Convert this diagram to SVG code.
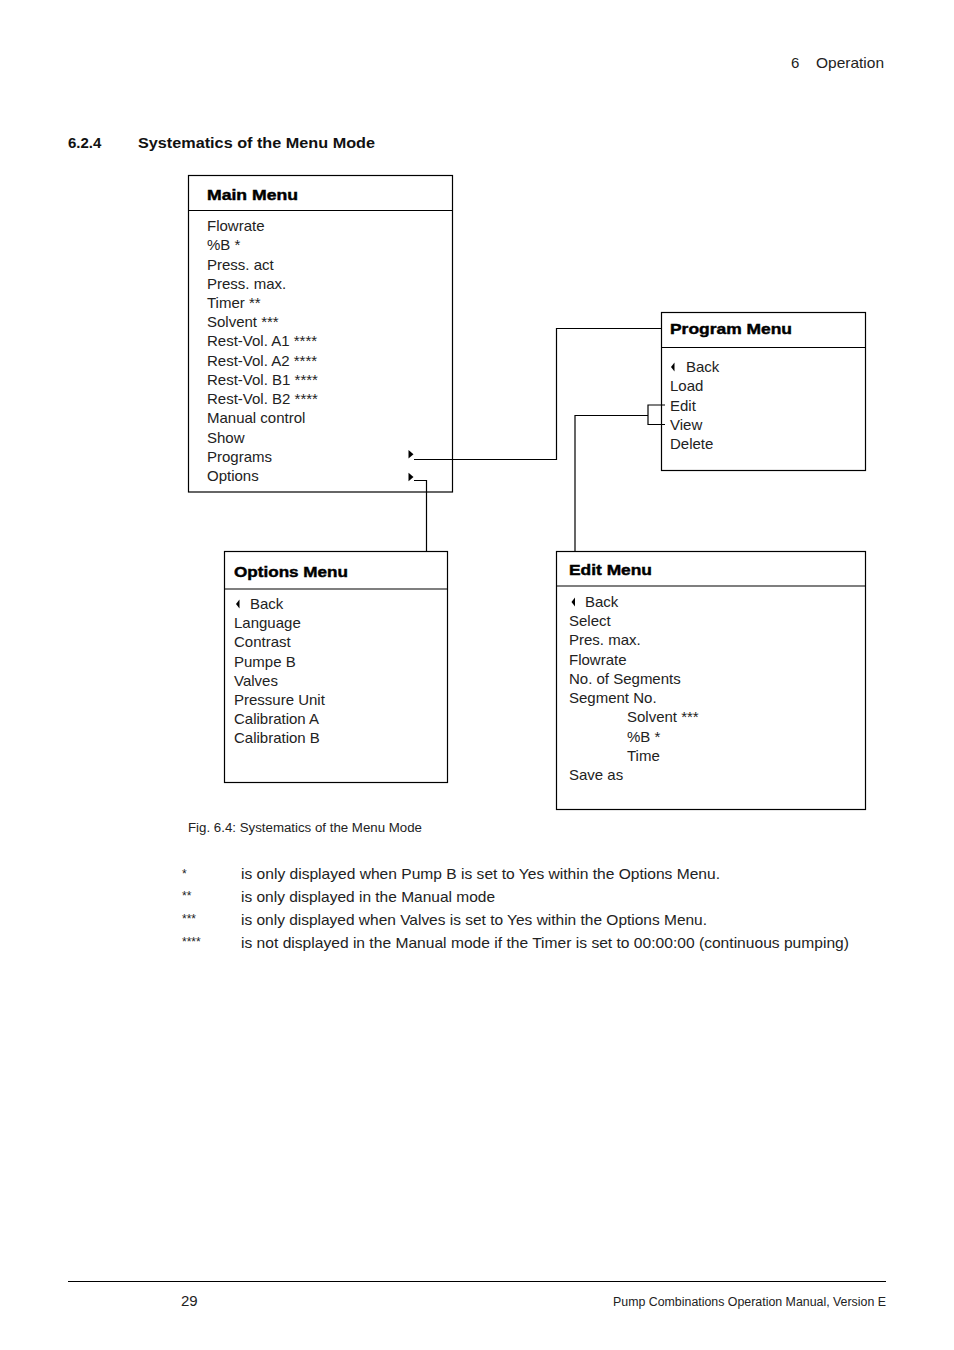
<svg xmlns="http://www.w3.org/2000/svg" width="954" height="1350" viewBox="0 0 954 1350">
<style>
.t{font-family:"Liberation Sans",Arial,sans-serif;font-size:15px;fill:#222}
.b{font-family:"Liberation Sans",Arial,sans-serif;font-size:15.5px;font-weight:bold;fill:#000;stroke:#000;stroke-width:0.45}
.h{font-family:"Liberation Sans",Arial,sans-serif;font-size:15px;font-weight:bold;fill:#111}
.s{font-family:"Liberation Sans",Arial,sans-serif;font-size:12px;fill:#222}
.box{fill:none;stroke:#000;stroke-width:1.2}
.ln{fill:none;stroke:#000;stroke-width:1.2}
.tri{fill:#000}
</style>
<rect width="954" height="1350" fill="#fff"/>
<text class="t" x="791" y="68">6</text>
<text class="t" x="816" y="68" textLength="68" lengthAdjust="spacingAndGlyphs">Operation</text>
<text class="h" x="68" y="148">6.2.4</text>
<text class="h" x="138" y="148" textLength="237" lengthAdjust="spacingAndGlyphs">Systematics of the Menu Mode</text>

<g id="connectors">
<path class="ln" d="M414,459.5 H556.5 V328.5 H661"/>
<path class="ln" d="M414,480.5 H426.5 V551"/>
<path class="ln" d="M665,405 H648 V424.5 H665 M648,415.5 H575 V551"/>
</g>

<g id="main-menu">
<rect class="box" x="188.5" y="175.5" width="264" height="316.5"/>
<line class="ln" x1="188.5" y1="210.5" x2="452.5" y2="210.5"/>
<text class="b" x="207" y="200" textLength="91" lengthAdjust="spacingAndGlyphs">Main Menu</text>
<text class="t" x="207" y="231">Flowrate</text>
<text class="t" x="207" y="250.2">%B *</text>
<text class="t" x="207" y="269.5">Press. act</text>
<text class="t" x="207" y="288.7">Press. max.</text>
<text class="t" x="207" y="307.9">Timer **</text>
<text class="t" x="207" y="327.2">Solvent ***</text>
<text class="t" x="207" y="346.4">Rest-Vol. A1 ****</text>
<text class="t" x="207" y="365.6">Rest-Vol. A2 ****</text>
<text class="t" x="207" y="384.8">Rest-Vol. B1 ****</text>
<text class="t" x="207" y="404.1">Rest-Vol. B2 ****</text>
<text class="t" x="207" y="423.3">Manual control</text>
<text class="t" x="207" y="442.5">Show</text>
<text class="t" x="207" y="461.8">Programs</text>
<text class="t" x="207" y="481">Options</text>
<polygon class="tri" points="408.5,450 408.5,458.5 413.5,454.2"/>
<polygon class="tri" points="408.5,472.8 408.5,481.3 413.5,477"/>
</g>

<g id="program-menu">
<rect class="box" x="661.5" y="312.5" width="204" height="158"/>
<line class="ln" x1="661.5" y1="347.5" x2="865.5" y2="347.5"/>
<text class="b" x="670" y="334" textLength="122" lengthAdjust="spacingAndGlyphs">Program Menu</text>
<polygon class="tri" points="674.5,362.5 674.5,371.5 671,367"/>
<text class="t" x="686" y="372">Back</text>
<text class="t" x="670" y="391.2">Load</text>
<text class="t" x="670" y="410.5">Edit</text>
<text class="t" x="670" y="429.7">View</text>
<text class="t" x="670" y="449">Delete</text>
</g>

<g id="options-menu">
<rect class="box" x="224.5" y="551.5" width="223" height="231"/>
<line class="ln" x1="224.5" y1="589" x2="447.5" y2="589"/>
<text class="b" x="234" y="577" textLength="114" lengthAdjust="spacingAndGlyphs">Options Menu</text>
<polygon class="tri" points="239.5,599.5 239.5,608.5 236,604"/>
<text class="t" x="250" y="609">Back</text>
<text class="t" x="234" y="628.2">Language</text>
<text class="t" x="234" y="647.4">Contrast</text>
<text class="t" x="234" y="666.6">Pumpe B</text>
<text class="t" x="234" y="685.8">Valves</text>
<text class="t" x="234" y="705">Pressure Unit</text>
<text class="t" x="234" y="724.2">Calibration A</text>
<text class="t" x="234" y="743.4">Calibration B</text>
</g>

<g id="edit-menu">
<rect class="box" x="556.5" y="551.5" width="309" height="258"/>
<line class="ln" x1="556.5" y1="586" x2="865.5" y2="586"/>
<text class="b" x="569" y="575" textLength="83" lengthAdjust="spacingAndGlyphs">Edit Menu</text>
<polygon class="tri" points="575,597.5 575,606.5 571.5,602"/>
<text class="t" x="585" y="607">Back</text>
<text class="t" x="569" y="626.2">Select</text>
<text class="t" x="569" y="645.4">Pres. max.</text>
<text class="t" x="569" y="664.7">Flowrate</text>
<text class="t" x="569" y="683.9">No. of Segments</text>
<text class="t" x="569" y="703.1">Segment No.</text>
<text class="t" x="627" y="722.3">Solvent ***</text>
<text class="t" x="627" y="741.5">%B *</text>
<text class="t" x="627" y="760.8">Time</text>
<text class="t" x="569" y="780">Save as</text>
</g>

<text class="s" x="188" y="832" textLength="234" lengthAdjust="spacingAndGlyphs">Fig. 6.4: Systematics of the Menu Mode</text>

<text class="s" x="182" y="878">*</text>
<text class="s" x="182" y="900">**</text>
<text class="s" x="182" y="923">***</text>
<text class="s" x="182" y="946">****</text>
<text class="t" x="241" y="879" textLength="479" lengthAdjust="spacingAndGlyphs">is only displayed when Pump B is set to Yes within the Options Menu.</text>
<text class="t" x="241" y="902" textLength="254" lengthAdjust="spacingAndGlyphs">is only displayed in the Manual mode</text>
<text class="t" x="241" y="925" textLength="466" lengthAdjust="spacingAndGlyphs">is only displayed when Valves is set to Yes within the Options Menu.</text>
<text class="t" x="241" y="948" textLength="608" lengthAdjust="spacingAndGlyphs">is not displayed in the Manual mode if the Timer is set to 00:00:00 (continuous pumping)</text>

<line x1="68" y1="1281.5" x2="886" y2="1281.5" stroke="#000" stroke-width="1"/>
<text class="t" x="181" y="1306">29</text>
<text class="s" x="886" y="1306" text-anchor="end" textLength="273" lengthAdjust="spacingAndGlyphs">Pump Combinations Operation Manual, Version E</text>
</svg>
